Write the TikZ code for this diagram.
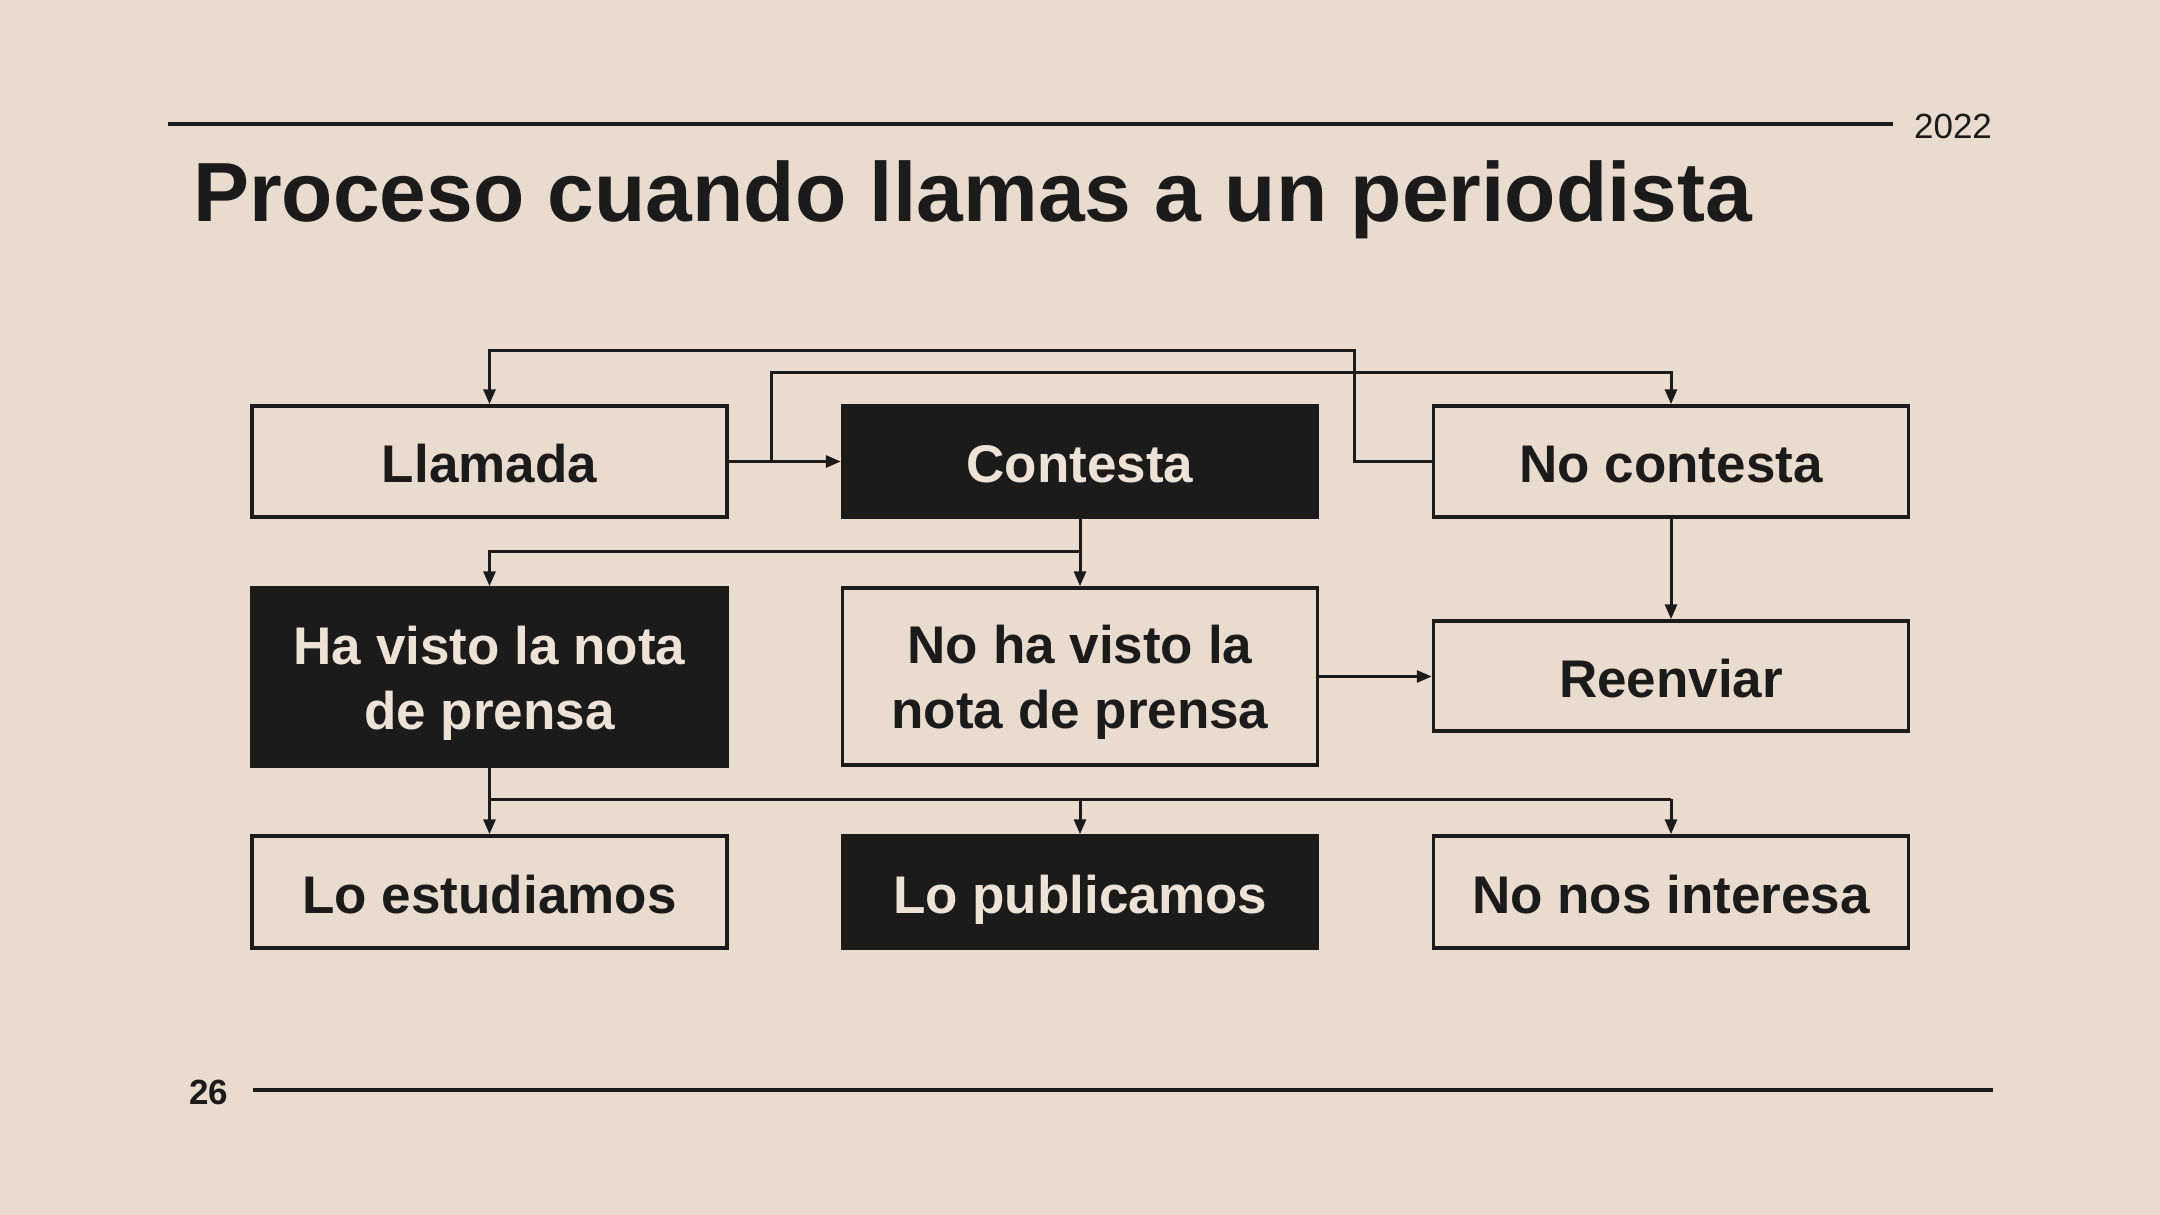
\documentclass[tikz,border=0pt]{standalone}
\usepackage{fontspec}
\setmainfont{Liberation Sans}
\usetikzlibrary{arrows.meta}
\definecolor{paper}{RGB}{233,219,206}
\definecolor{ink}{RGB}{27,27,27}
\definecolor{lightink}{RGB}{238,226,214}
\tikzset{
  box/.style={draw=ink, line width=3.5pt, minimum width=475pt, inner sep=0pt, align=center,
    font=\fontsize{53}{65}\selectfont\bfseries, text=ink},
  oneline/.style={text height=42pt, text depth=0pt},
  darkbox/.style={box, fill=ink, text=lightink},
  boxtext/.style={align=center, inner sep=0pt, font=\fontsize{53}{65}\selectfont\bfseries},
  conn/.style={draw=ink, line width=3pt, -{Triangle[length=15pt,width=12pt]}},
  plain/.style={draw=ink, line width=3pt},
  rule/.style={draw=ink, line width=4.5pt}
}
\begin{document}
\begin{tikzpicture}[x=1pt,y=-1pt]
\useasboundingbox (0,0) rectangle (2160,1215);
\fill[paper] (0,0) rectangle (2160,1215);
% header / footer
\coordinate (hl) at (168,124);
\coordinate (hr) at (1893,124);
\draw[rule] (hl) -- (hr);
\node[font=\fontsize{35}{42}\selectfont, text=ink] (year) at (1953,126) {2022};
\node[anchor=base west, font=\fontsize{84}{100}\selectfont\bfseries, text=ink, inner sep=0pt] (title) at (193,221) {Proceso cuando llamas a un periodista};
\coordinate (fl) at (253,1090);
\coordinate (fr) at (1993,1090);
\draw[rule] (fl) -- (fr);
\node[font=\fontsize{35}{42}\selectfont\bfseries, text=ink] (page) at (209,1092) {26};
% boxes
\node[box, oneline, minimum height=111pt] (llamada) at (489.5,461.5) {Llamada};
\node[darkbox, oneline, minimum height=111pt] (contesta) at (1080,461.5) {Contesta};
\node[box, oneline, minimum height=111pt] (nocont) at (1671,461.5) {No contesta};
\node[darkbox, minimum height=178pt] (havisto) at (489.5,677) {};
\node[boxtext, text=lightink] (havistoT) at ([yshift=-6pt]havisto.center) {Ha visto la nota\\de prensa};
\node[box, minimum height=177pt] (nohavisto) at (1080,676.5) {};
\node[boxtext, text=ink] (nohavistoT) at ([yshift=-6pt]nohavisto.center) {No ha visto la\\nota de prensa};
\node[box, oneline, minimum height=110pt] (reenviar) at (1671,676) {Reenviar};
\node[box, oneline, minimum height=112pt] (estud) at (489.5,892) {Lo estudiamos};
\node[darkbox, oneline, minimum height=112pt] (publi) at (1080,892) {Lo publicamos};
\node[box, oneline, minimum height=112pt] (nointer) at (1671,892) {No nos interesa};
% connectors
\draw[conn] (llamada.east) -- (contesta.west);
\coordinate (split1) at (771,461.5);
\draw[conn] (split1) |- (1671,372) -- (nocont.north);
\draw[conn] (nocont.west) -- (1354,461.5) |- (489.5,350) -- (llamada.north);
\draw[conn] (contesta.south) -- (nohavisto.north);
\coordinate (split2) at (1080,551);
\draw[conn] (split2) -| (havisto.north);
\draw[conn] (nocont.south) -- (reenviar.north);
\draw[conn] (nohavisto.east) -- (reenviar.west |- nohavisto.east);
\draw[conn] (havisto.south) -- (estud.north);
\coordinate (split3) at (489.5,799);
\draw[plain] (split3) -- (1671,799);
\draw[conn] (1080,799) -- (publi.north);
\draw[conn] (1671,799) -- (nointer.north);
\end{tikzpicture}
\end{document}
